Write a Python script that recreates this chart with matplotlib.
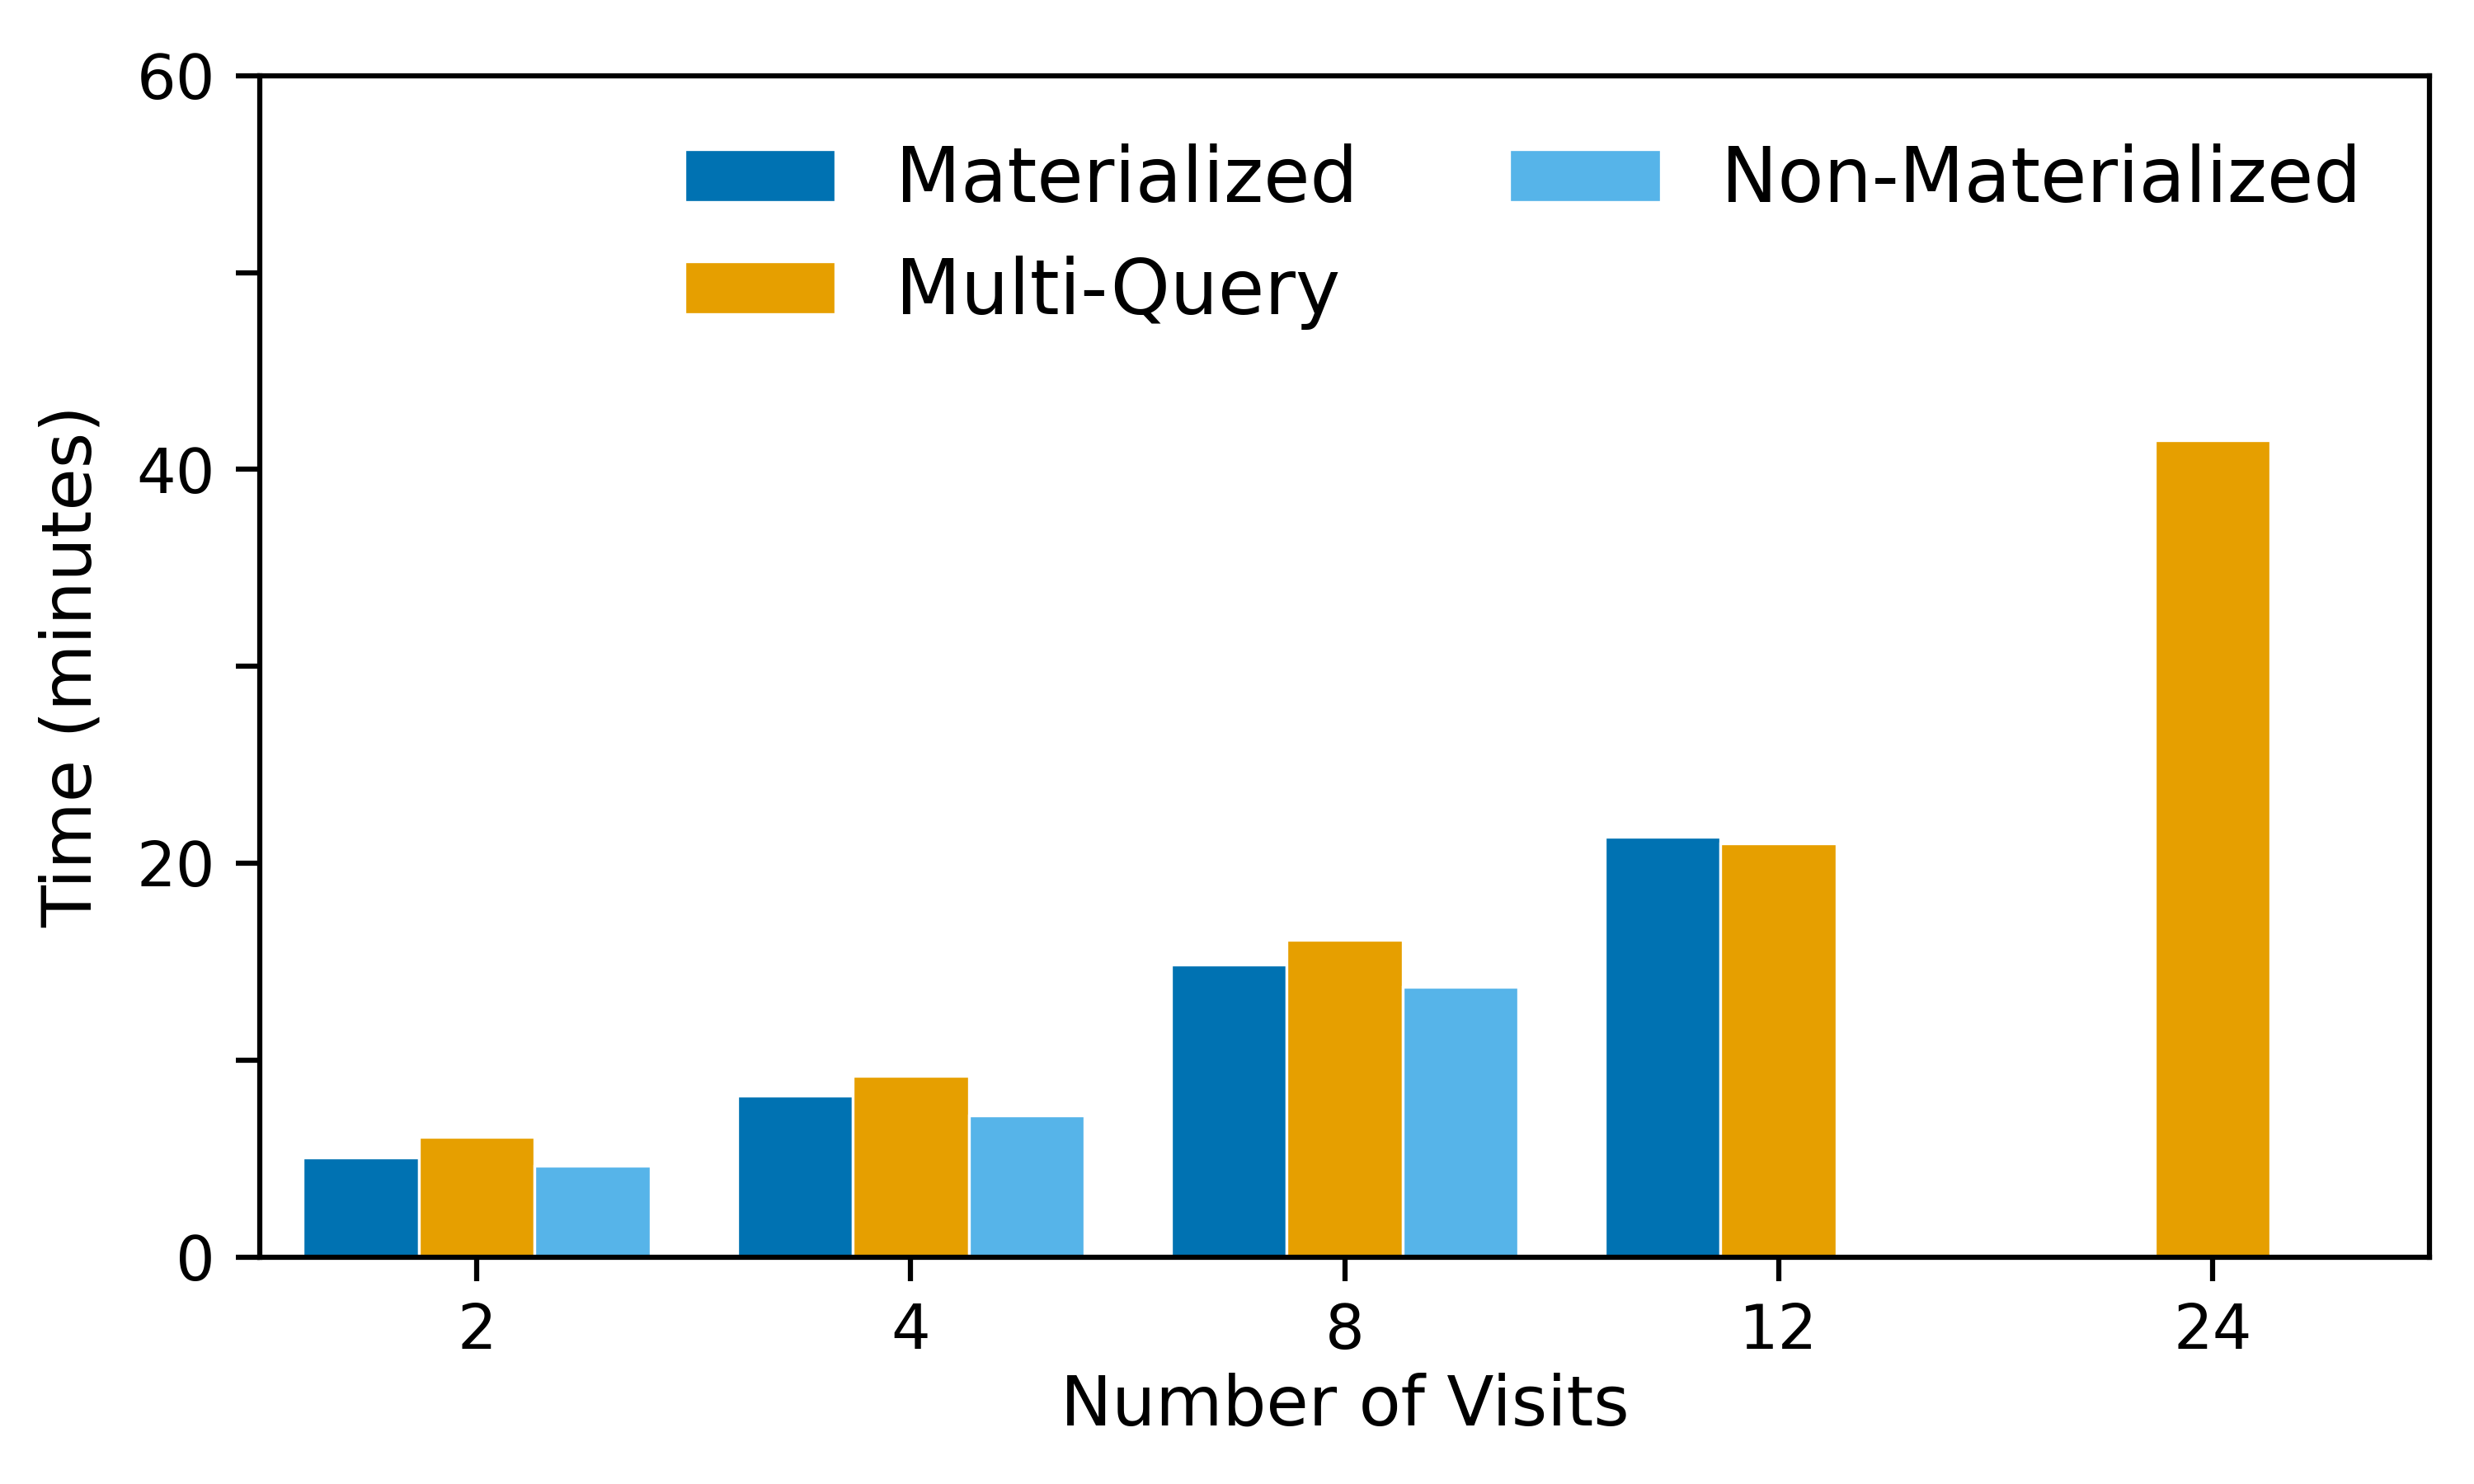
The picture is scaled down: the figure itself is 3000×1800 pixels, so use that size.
import matplotlib
matplotlib.use("Agg")
import matplotlib.pyplot as plt
import numpy as np

categories = ["2", "4", "8", "12", "24"]
materialized = [5.05, 8.2, 14.85, 21.35, np.nan]
multi_query = [6.1, 9.2, 16.1, 21.0, 41.5]
non_materialized = [4.65, 7.2, 13.7, np.nan, np.nan]

series = [("Materialized", materialized, "#0072B2"),
          ("Multi-Query", multi_query, "#E69F00"),
          ("Non-Materialized", non_materialized, "#56B4E9")]

plt.rcParams['font.family'] = ['DejaVu Sans']
fig = plt.figure(figsize=(10, 6), dpi=300)
ax = fig.add_axes([0.105, 0.153, 0.877, 0.796])

x = np.arange(len(categories))
w = 0.267
for i, (name, vals, col) in enumerate(series):
    ax.bar(x + (i - 1) * w, vals, width=w, color=col, edgecolor="white", linewidth=0.8, label=name)

ax.set_xlim(-0.5, 4.5)
ax.set_ylim(0, 60)
ax.set_xticks(x)
ax.set_xticklabels(categories)
ax.set_yticks(np.arange(0, 61, 10))
ax.set_yticklabels(["0", "", "20", "", "40", "", "60"])
ax.tick_params(axis="both", labelsize=18, length=7, width=1.5, direction="out", pad=6)
for s in ax.spines.values():
    s.set_linewidth(1.5)
ax.set_xlabel("Number of Visits", fontsize=20, labelpad=3)
ax.set_ylabel("Time (minutes)", fontsize=20, labelpad=9)
ax.legend(ncol=2, frameon=False, fontsize=22, loc="upper right", handlelength=2.0,
          columnspacing=2.0, handletextpad=0.8, bbox_to_anchor=(1.0, 1.0))

fig.savefig("out.png", dpi=300)
